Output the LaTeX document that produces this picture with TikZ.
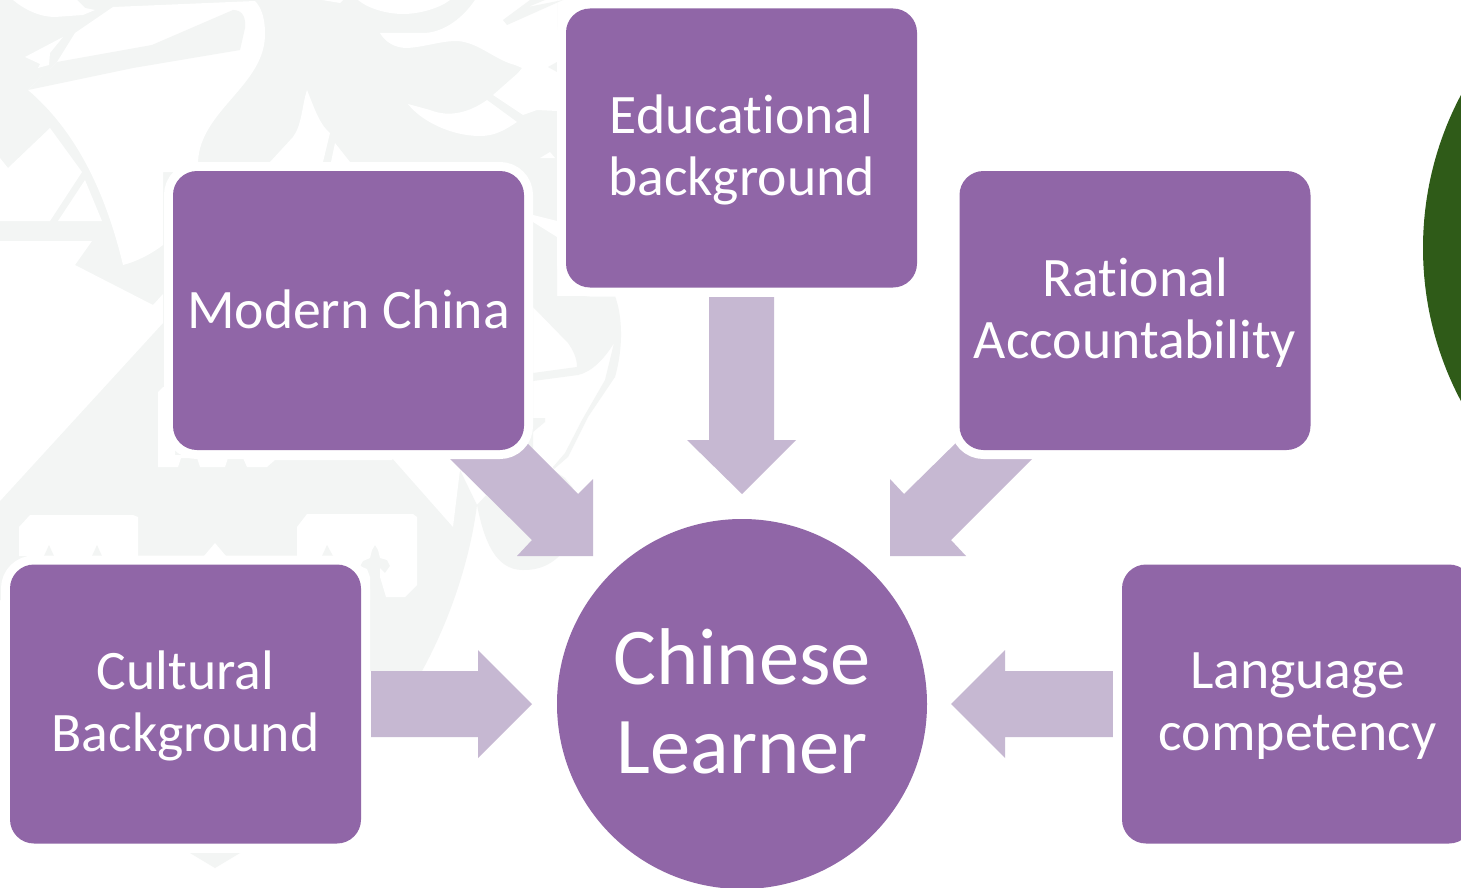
\documentclass[tikz,border=0pt]{standalone}
\usepackage{fontspec}
\setmainfont[Ligatures=NoCommon]{Carlito}
\definecolor{pur}{HTML}{9066A7}
\definecolor{arr}{HTML}{C6B8D2}
\definecolor{wm}{HTML}{F3F5F4}
\definecolor{grn}{HTML}{2F5B18}
\newcommand\nudge[2]{\raisebox{#1}[\height][\depth]{#2}}
\tikzset{
  tile/.style={rectangle,rounded corners=24pt,minimum width=351pt,minimum height=279pt,inner sep=0pt,outer sep=0pt,
    fill=pur,text=white,align=center,font=\fontsize{55.7}{62}\selectfont,
    preaction={draw=white,line width=18pt,line join=round}},
  hub/.style={circle,minimum size=370pt,inner sep=0pt,outer sep=0pt,fill=pur,text=white,align=center,font=\fontsize{80.5}{89}\selectfont},
  blockarrow/.style={fill=arr,draw=none},
  mark1/.style={fill=wm,draw=none},
  cut/.style={fill=white,draw=none}
}
\begin{document}
\begin{tikzpicture}[x=1pt,y=-1pt]
\useasboundingbox (0,0) rectangle (1461,888);
\clip (0,0) rectangle (1461,888);
\fill[white] (0,0) rectangle (1461,888);
% watermark base
\path[mark1] (0,0) -- (557,0) -- (557,300) -- (533,300) -- (533,458) -- (462,458) -- (460,470) -- (477,505)
  .. controls (470,560) and (450,620) .. (422,671) -- (369,671) -- (369,600) -- (0,600) -- cycle;
\path[mark1] (477,505) .. controls (484,540) and (495,570) .. (523,570) .. controls (540,570) and (552,565) .. (565,550) -- (540,500) -- (500,480) -- cycle;
\path[mark1] (533,296) -- (615,296) .. controls (622,315) and (624,345) .. (615,377) -- (588,417) -- (568,457) -- (553,470) -- (565,478) -- (573,488) -- (560,485) -- (553,467) -- (565,453) -- (582,420) -- (605,380) -- (614,343) .. controls (605,358) and (592,372) .. (578,375) -- (533,381) -- (533,373) -- (577,367) .. controls (577,358) and (573,350) .. (568,343) -- (533,307) -- cycle;
\path[mark1] (533,418) -- (545,418) -- (545,422) -- (533,432) -- cycle;
\path[mark1] (190,853) -- (240,853) -- (215,868) -- cycle;
% watermark cut-outs
\path[cut] (28,90) -- (57,62) -- (75,33) -- (113,7) -- (255,1) .. controls (262,8) and (265,20) .. (265,33) .. controls (266,85) and (200,110) .. (198,162) -- (198,172) -- (163,172) -- (163,245) .. controls (150,255) and (135,262) .. (123,265) .. controls (105,190) and (75,130) .. cycle;
\path[mark1] (57,62) -- (152,45) -- (233,10) .. controls (243,10) and (246,18) .. (245,28) -- (240,50) -- (133,68) -- (28,90) -- cycle;
\path[cut] (13,0) .. controls (25,10) and (40,17) .. (55,17) -- (83,15) -- (95,10) -- (85,8) -- (77,0) -- cycle;
\path[cut] (25,57) -- (63,37) -- (50,53) -- (49,65) -- (38,68) -- (40,64) -- cycle;
\path[cut] (0,158) -- (8,168) -- (50,128) -- (82,172) -- (50,221) -- (0,221) -- cycle;
\path[cut] (85,180) -- (102,221) -- (58,221) -- cycle;
\path[cut] (0,241) -- (92,241) -- (75,265) -- (153,305) -- (163,294) -- (163,323) -- (0,501) -- cycle;
\path[cut] (270,162) -- (293,137) .. controls (302,125) and (302,105) .. (307,90) .. controls (315,110) and (320,125) .. (330,133) -- (323,162) -- cycle;
\path[cut] (331,162) -- (335,143) -- (350,162) -- cycle;
\path[cut] (322,0) -- (340,3) -- (343,0) -- cycle;
\path[cut] (358,0) .. controls (370,10) and (390,14) .. (403,14) .. controls (420,14) and (440,8) .. (450,0) -- cycle;
\path[cut] (475,0) .. controls (460,22) and (440,33) .. (423,33) -- (380,33) .. controls (385,42) and (395,48) .. (407,48) .. controls (425,47) and (440,41) .. (457,41) .. controls (478,42) and (495,60) .. (515,65) -- (522,68) -- (518,73) -- (493,95) -- (523,115) -- (537,110) -- (557,111) -- (557,0) -- cycle;
\path[mark1] (503,20) -- (530,0) -- (545,0) -- (528,7) -- (563,0) -- (507,25) -- cycle;
\path[mark1] (548,67) -- (557,62) -- (557,72) -- cycle;
\path[cut] (408,104) .. controls (420,120) and (450,136) .. (480,136) .. controls (495,136) and (505,130) .. (517,122) -- (487,100) .. controls (470,112) and (450,118) .. (430,110) -- cycle;
\path[cut] (540,158) -- (555,158) -- (550,152) -- cycle;
\path[cut] (533,215) -- (557,221) -- (557,237) -- (533,222) -- cycle;
\path[cut] (158,392) -- (163,387) -- (175,387) -- (175,455) -- (395,455) -- (392,460) -- (275,460) -- (267,467) -- (247,467) -- (243,458) -- (228,458) -- (225,467) -- (200,467) -- (197,458) -- (181,458) -- (178,467) -- (158,467) -- cycle;
\path[cut] (392,458) -- (453,527) -- (460,470) -- (462,458) -- cycle;
\path[cut] (19,556) -- (19,527) -- (30,515) -- (133,515) -- (138,517) -- (138,556) -- cycle;
\path[mark1] (44,556) -- (49,545) -- (54,556) -- cycle;
\path[mark1] (92,556) -- (97,545) -- (102,556) -- cycle;
\path[cut] (204,556) -- (215,543) -- (226,556) -- cycle;
\path[cut] (297,556) -- (297,527) -- (307,514) -- (413,514) -- (417,517) -- (417,585) -- (405,597) -- (386,597) -- (380,577) -- (380,568) -- (385,573) -- (390,566) -- (387,560) -- (380,558) -- (378,550) -- (375,545) -- (372,550) -- (370,558) -- (363,561) -- (360,566) -- (367,569) -- (370,577) -- (370,600) -- (340,600) -- (340,556) -- cycle;
\path[mark1] (322,556) -- (327,545) -- (333,556) -- cycle;
% green disc
\fill[grn] (1750,248) circle (327);
% block arrows
\path[blockarrow] (441,450) -- (532,540) -- (517,556) -- (593,556) -- (593,479) -- (578,494) -- (518,434) -- cycle;
\path[blockarrow] (1041,450) -- (951,540) -- (966,556) -- (890,556) -- (890,479) -- (904,494) -- (965,434) -- cycle;
\path[blockarrow] (709,297) -- (709,440) -- (687,440) -- (742,494) -- (796,440) -- (774,440) -- (774,297) -- cycle;
\path[blockarrow] (371,671) -- (478,671) -- (478,650) -- (532,704) -- (478,758) -- (478,737) -- (371,737) -- cycle;
\path[blockarrow] (1113,671) -- (1005,671) -- (1005,650) -- (951,704) -- (1005,758) -- (1005,737) -- (1113,737) -- cycle;
% nodes
\node[tile] (modern) at (348.5,310.5) {\nudge{1.5pt}{Modern China}};
\node[tile] (edu) at (741.5,148) {\nudge{-2pt}{Educational}\\\nudge{-2pt}{background}};
\node[tile] (rational) at (1135,310.5) {\nudge{-2pt}{Rational}\\\nudge{-2pt}{Accountability}};
\node[tile] (cultural) at (185.5,704) {\nudge{-2pt}{Cultural}\\\nudge{-2pt}{Background}};
\node[tile] (language) at (1297.5,704) {\nudge{-2pt}{Language}\\\nudge{-2pt}{competency}};
\node[hub] (hub) at (742,704) {\nudge{3pt}{Chinese}\\\nudge{3pt}{Learner}};
\end{tikzpicture}
\end{document}
